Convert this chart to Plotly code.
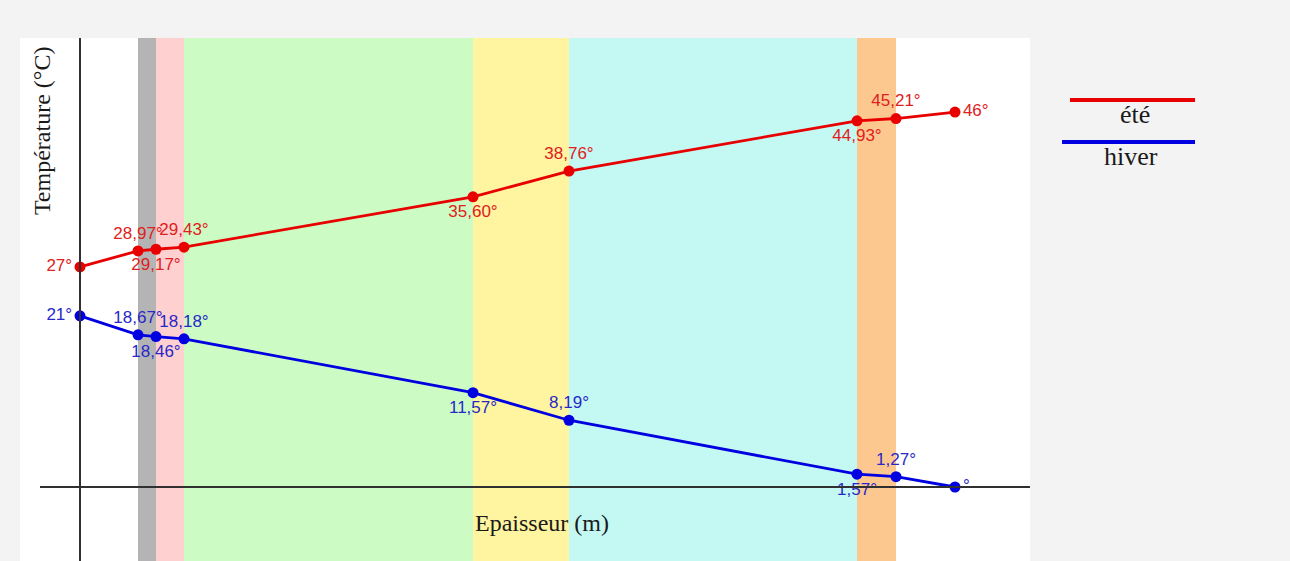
import plotly.graph_objects as go

# Positions across the wall (m) and temperatures (°C)
epaisseur = [0.0, 0.058, 0.076, 0.104, 0.393, 0.489, 0.777, 0.816, 0.875]
ete = [27, 28.97, 29.17, 29.43, 35.60, 38.76, 44.93, 45.21, 46]
hiver = [21, 18.67, 18.46, 18.18, 11.57, 8.19, 1.57, 1.27, 0]
ete_labels = ["27°", "28,97°", "29,17°", "29,43°", "35,60°", "38,76°", "44,93°", "45,21°", "46°"]
hiver_labels = ["21°", "18,67°", "18,46°", "18,18°", "11,57°", "8,19°", "1,57°", "1,27°", "°"]
ete_pos = ["middle left", "top center", "bottom center", "top center", "bottom center",
           "top center", "bottom center", "top center", "middle right"]
hiver_pos = ["middle left", "top center", "bottom center", "top center", "bottom center",
             "top center", "bottom center", "top center", "middle right"]
layer_colors = ["#b4b4b4", "#ffd0d0", "#ccfcc4", "#fff4a0", "#c4f8f2", "#fcc890"]
series_names = ["été", "hiver"]
series_colors = ["#e80000", "#0000e0"]
label_colors = ["#e02020", "#2828c8"]

fig = go.Figure()

# layer bands
for i, c in enumerate(layer_colors):
    fig.add_shape(type="rect", xref="x", yref="paper",
                  x0=epaisseur[i + 1], x1=epaisseur[i + 2], y0=0, y1=1,
                  fillcolor=c, line_width=0, layer="below")

# axes lines
fig.add_shape(type="line", xref="x", yref="paper", x0=0, x1=0, y0=0, y1=1,
              line=dict(color="#303030", width=2))
fig.add_shape(type="line", xref="x", yref="y", x0=-0.040, x1=0.950, y0=0, y1=0,
              line=dict(color="#303030", width=2))

for name, ys, labels, pos, col, lcol in [
    (series_names[0], ete, ete_labels, ete_pos, series_colors[0], label_colors[0]),
    (series_names[1], hiver, hiver_labels, hiver_pos, series_colors[1], label_colors[1]),
]:
    fig.add_trace(go.Scatter(
        x=epaisseur, y=ys, mode="lines+markers+text", name=name,
        text=labels, textposition=pos,
        textfont=dict(family="Liberation Sans, Arial", size=17, color=lcol),
        line=dict(color=col, width=2.8),
        marker=dict(color=col, size=11),
        showlegend=False, cliponaxis=False,
    ))

# custom legend: line with the name centred beneath
leg_y = [0.8815, 0.8011]
leg_x0 = [1.0396, 1.0317]
leg_text_x = [1.104, 1.100]
for k, name in enumerate(series_names):
    fig.add_shape(type="line", xref="paper", yref="paper",
                  x0=leg_x0[k], x1=1.1634, y0=leg_y[k], y1=leg_y[k],
                  line=dict(color=series_colors[k], width=4))
    fig.add_annotation(xref="paper", yref="paper", x=leg_text_x[k], y=leg_y[k] + 0.004,
                       text=name, showarrow=False, yanchor="top", xanchor="center",
                       font=dict(family="Liberation Serif, Times New Roman", size=26, color="#1a1a1a"))

fig.add_annotation(xref="x", yref="paper", x=0.462, y=0.0727, text="Epaisseur (m)",
                   showarrow=False, xanchor="center", yanchor="middle",
                   font=dict(family="Liberation Serif, Times New Roman", size=24, color="#1a1a1a"))
fig.add_annotation(xref="paper", yref="paper", x=0.0218, y=0.822, text="Température (°C)",
                   showarrow=False, textangle=-90, xanchor="center", yanchor="middle",
                   font=dict(family="Liberation Serif, Times New Roman", size=24, color="#1a1a1a"))

fig.update_xaxes(range=[-0.060, 0.950], visible=False, showgrid=False, zeroline=False)
fig.update_yaxes(range=[-9.08, 55.09], visible=False, showgrid=False, zeroline=False)
fig.update_layout(
    width=1290, height=561,
    margin=dict(l=20, r=260, t=38, b=0),
    paper_bgcolor="#f3f3f3", plot_bgcolor="#ffffff",
)

fig.write_html("out.html", config={"displayModeBar": False},
               post_script="document.body.style.margin='0';document.body.style.overflow='hidden';")
